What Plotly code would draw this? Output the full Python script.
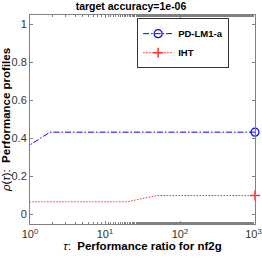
import plotly.graph_objects as go

# Data (tau values, profile values), listed from the right end so the marker sits at the first point
pd_tau = [1000, 1.85, 1]
pd_rho = [13/30, 13/30, 11/30]
iht_tau = [1000, 49, 19.6, 1]
iht_rho = [3/30, 3/30, 2/30, 2/30]

series_names = ["PD-LM1-a", "IHT"]
xtick_vals = [1, 10, 100, 1000]
xtick_text = ["10<sup>0</sup>", "10<sup>1</sup>", "10<sup>2</sup>", "10<sup>3</sup>\u00a0"]
ytick_vals = [0, 0.2, 0.4, 0.6, 0.8, 1]
ytick_text = ["0", "0.2", "0.4", "0.6", "0.8", "1"]

font = "Liberation Sans, Arial, sans-serif"
blue = "#0000ff"
red = "#ff3030"
clear = "rgba(0,0,0,0)"

fig = go.Figure()
fig.add_trace(go.Scatter(
    x=pd_tau, y=pd_rho, name=series_names[0], mode="lines+markers", cliponaxis=False,
    line=dict(color=blue, width=1, dash="6px,2px,1.5px,2px"),
    marker=dict(symbol="circle-open", size=8,
                color=[blue] + [clear] * (len(pd_tau) - 1),
                line=dict(width=1.2, color=[blue] + [clear] * (len(pd_tau) - 1))),
))
fig.add_trace(go.Scatter(
    x=iht_tau, y=iht_rho, name=series_names[1], mode="lines+markers", cliponaxis=False,
    line=dict(color=red, width=1, dash="1.5px,1.5px"),
    marker=dict(symbol="cross-thin", size=7,
                color=[red] + [clear] * (len(iht_tau) - 1),
                line=dict(width=1.5, color=[red] + [clear] * (len(iht_tau) - 1))),
))

axis_common = dict(
    showline=True, linecolor="#808080", linewidth=1, mirror="ticks",
    ticks="inside", ticklen=3, tickcolor="#808080", showgrid=False, zeroline=False,
    tickfont=dict(family=font, size=11, color="#333333"), automargin=False,
    ticklabeloverflow="allow",
)

fig.update_layout(
    width=262, height=262,
    margin=dict(l=30, r=7, t=15, b=38, autoexpand=False),
    paper_bgcolor="white", plot_bgcolor="white",
    font=dict(family=font, size=11, color="black"),
    title=dict(text="target accuracy=1e-06", x=0.5, xanchor="center",
               y=0.977, yanchor="middle", font=dict(size=10.5, family=font, weight="bold")),
    xaxis=dict(type="log", range=[0, 3], tickvals=xtick_vals, ticktext=xtick_text,
               minor=dict(ticks="inside", ticklen=2, tickcolor="#808080"),
               title=dict(text="<i>τ</i>:  <b>Performance ratio for nf2g</b>",
                          font=dict(size=11.5, family=font), standoff=2),
               **axis_common),
    yaxis=dict(range=[-0.05, 1.05], tickvals=ytick_vals, ticktext=ytick_text,
               title=dict(text="<i>ρ</i>(<i>τ</i>):  <b>Performance profiles</b>",
                          font=dict(size=11.5, family=font), standoff=3),
               **axis_common),
    legend=dict(x=0.885, y=0.985, xanchor="right", yanchor="top",
                bordercolor="#333333", borderwidth=1, bgcolor="white",
                font=dict(family=font, size=9.5, weight="bold"), tracegroupgap=0,
                itemwidth=30),
    showlegend=True,
)

fig.write_html("out.html", config={"displayModeBar": False},
               post_script="document.body.style.margin='0';document.body.style.overflow='hidden';")
